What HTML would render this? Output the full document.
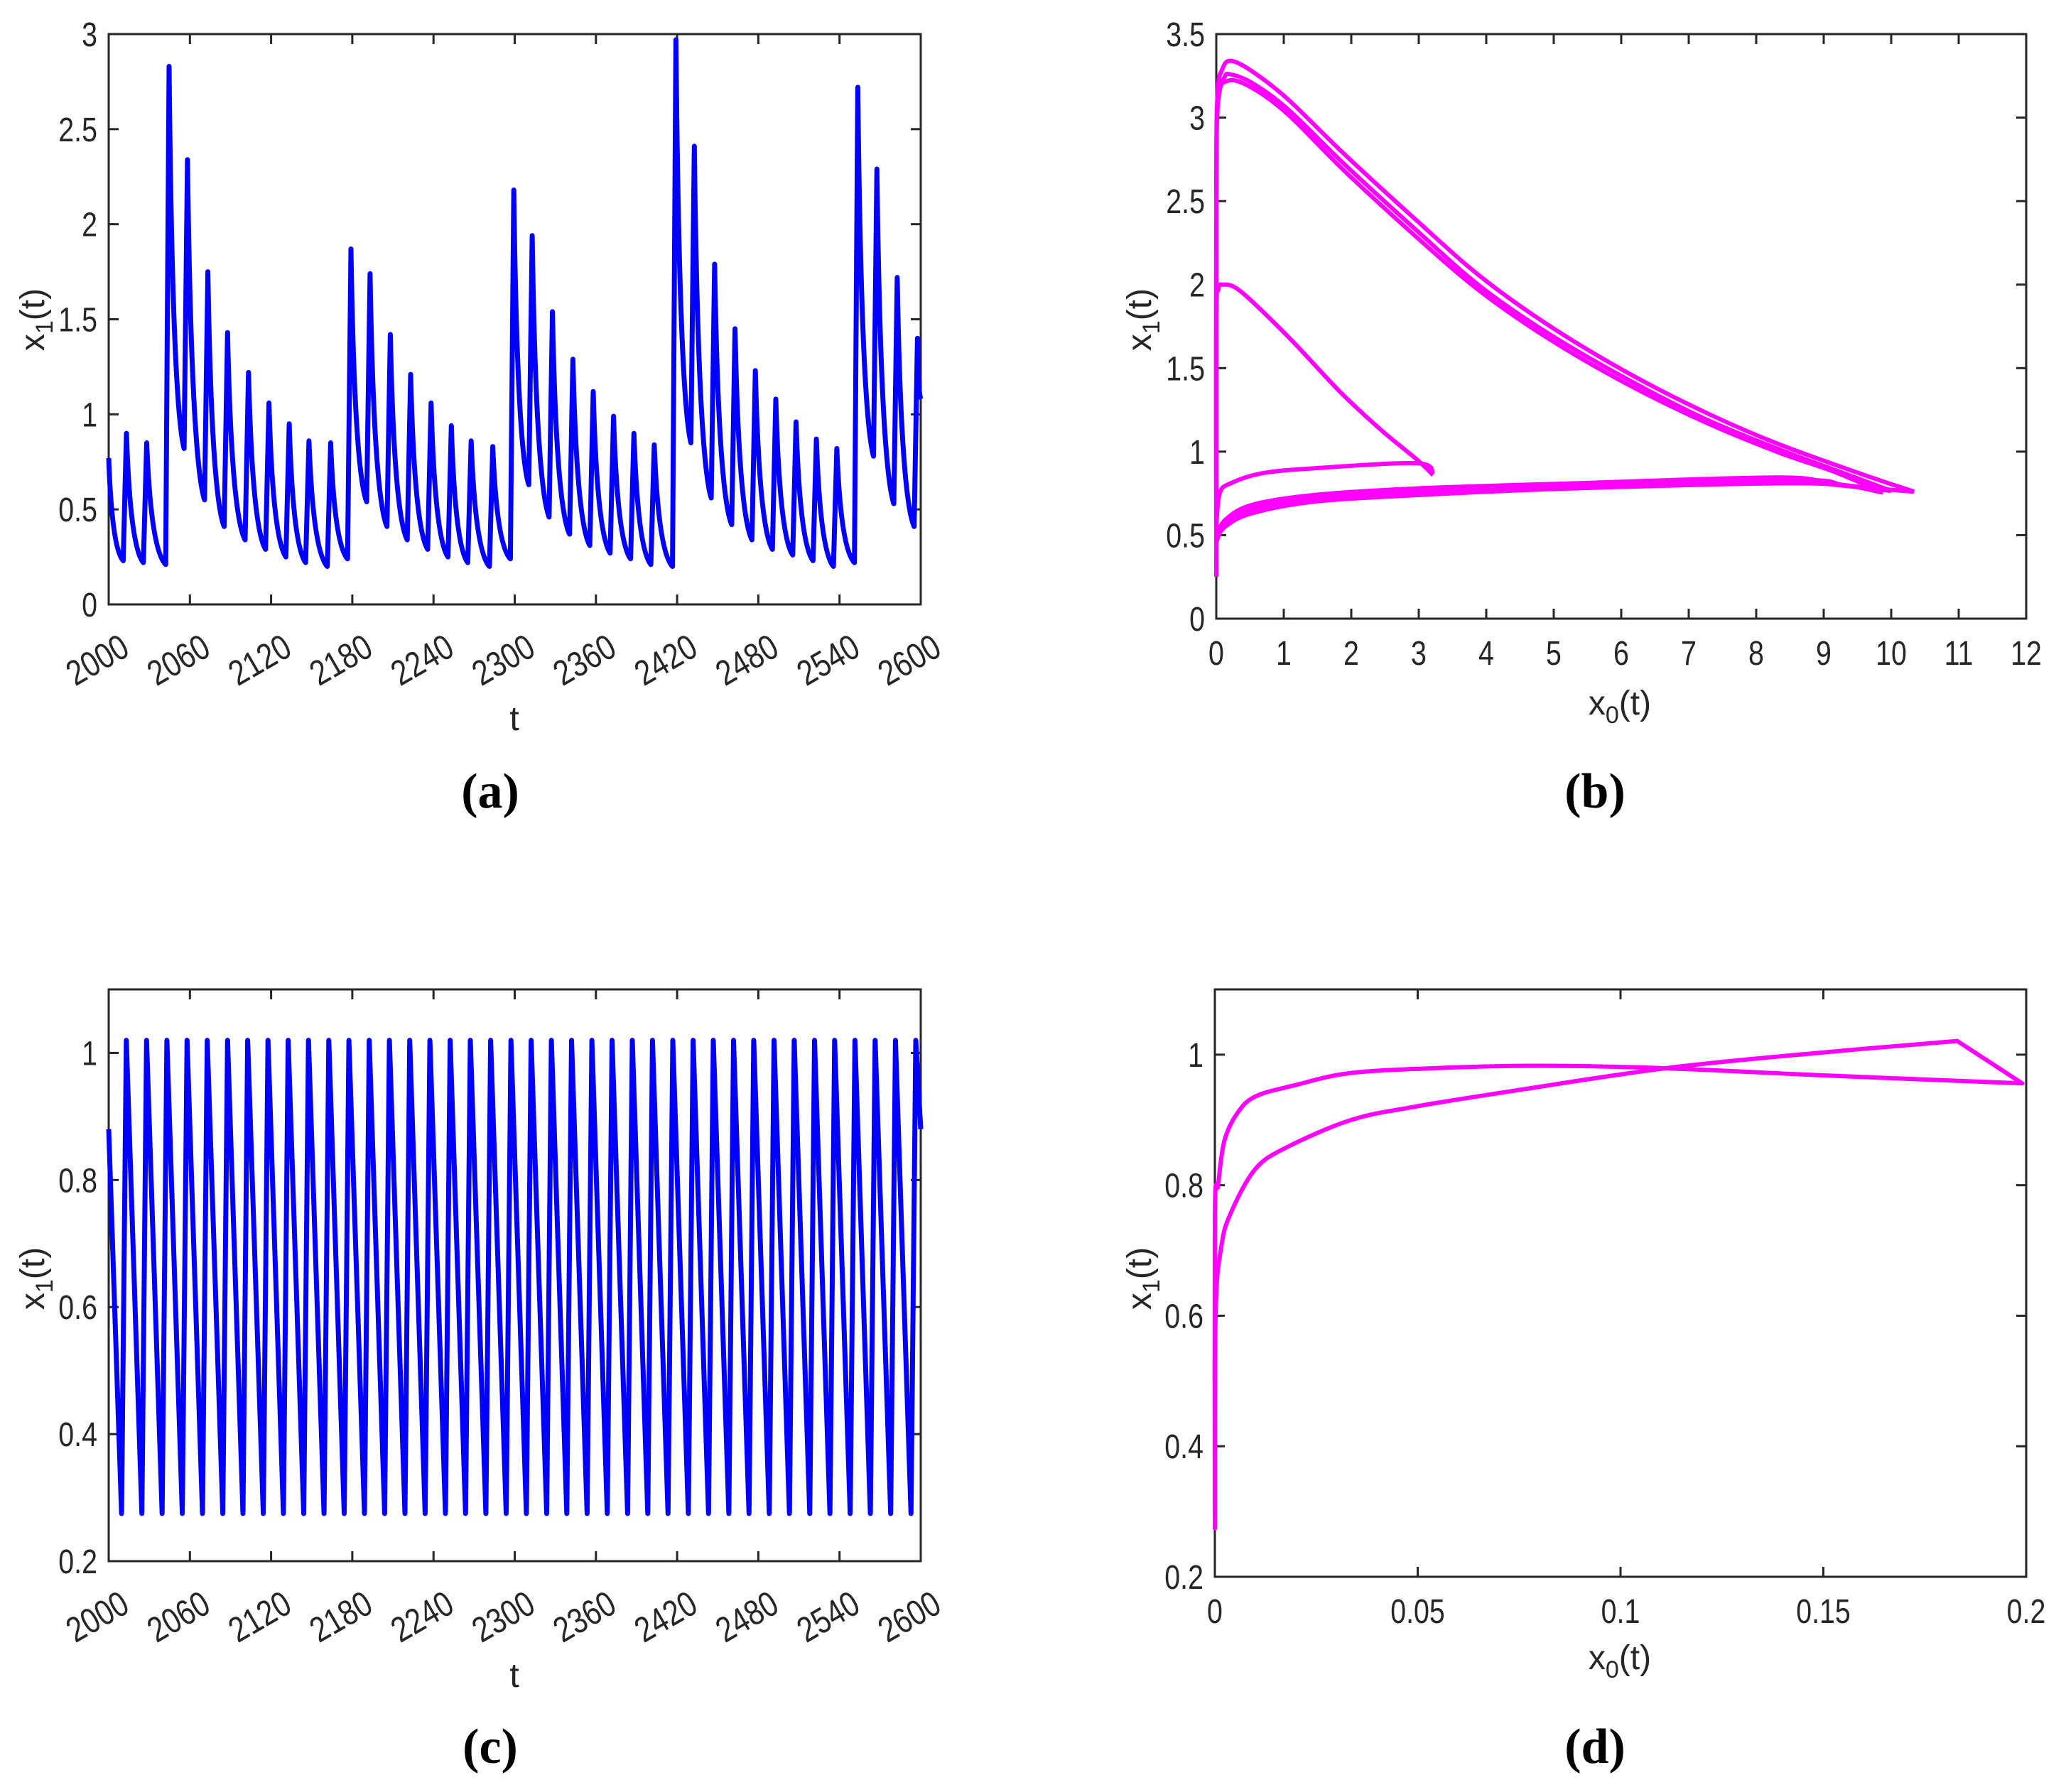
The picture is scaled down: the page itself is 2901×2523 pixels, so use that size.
<!DOCTYPE html>
<html><head><meta charset="utf-8"><style>
html,body{margin:0;padding:0;background:#fff;}
svg{display:block;}
text{font-family:"Liberation Sans",sans-serif;fill:#262626;}
.pl{font-family:"Liberation Serif",serif;font-weight:bold;fill:#000;}
</style></head><body>
<svg id="fig" width="2901" height="2523" viewBox="0 0 2901 2523" xmlns="http://www.w3.org/2000/svg"></svg>
<script>
// ---- Panel (a) data: spike peaks and troughs ----
const aStartT = 2000, aStartV = 0.77, aFirstTroughT = 2010.7, aFirstTroughV = 0.23;
const aPeakT = [2013.1,2028.1,2044.6,2058.2,2073.3,2087.8,2103.3,2118.4,2133.4,2148.0,2164.0,2179.0,2193.1,2208.1,2223.1,2238.2,2253.2,2267.8,2283.8,2299.3,2312.9,2327.9,2343.0,2358.0,2373.0,2388.1,2403.1,2419.1,2432.7,2447.7,2462.8,2477.8,2492.9,2507.9,2522.9,2538.0,2553.5,2567.6,2582.6,2597.6];
const aPeakV = [0.90,0.85,2.83,2.34,1.75,1.43,1.22,1.06,0.95,0.86,0.85,1.87,1.74,1.42,1.21,1.06,0.94,0.86,0.83,2.18,1.94,1.54,1.29,1.12,0.99,0.90,0.84,2.97,2.41,1.79,1.45,1.23,1.08,0.96,0.87,0.82,2.72,2.29,1.72,1.40];
const aTroughT = [2025.6,2042.1,2055.7,2070.8,2085.3,2100.8,2115.9,2130.9,2145.5,2161.5,2176.5,2190.6,2205.6,2220.6,2235.7,2250.7,2265.3,2281.3,2296.8,2310.4,2325.4,2340.5,2355.5,2370.5,2385.6,2400.6,2416.6,2430.2,2445.2,2460.3,2475.3,2490.4,2505.4,2520.4,2535.5,2551.0,2565.1,2580.1,2595.1,2600.0];
const aTroughV = [0.22,0.21,0.82,0.55,0.41,0.34,0.29,0.25,0.22,0.20,0.24,0.54,0.41,0.34,0.29,0.25,0.22,0.20,0.24,0.63,0.46,0.37,0.31,0.27,0.24,0.21,0.20,0.85,0.56,0.42,0.34,0.29,0.26,0.23,0.20,0.22,0.78,0.53,0.41,1.08];
const aXTicks = [2000,2060,2120,2180,2240,2300,2360,2420,2480,2540,2600];
const aYTicks = [0,0.5,1,1.5,2,2.5,3];
const aYTickLabels = ["0","0.5","1","1.5","2","2.5","3"];

// ---- Panel (b) data: phase portrait loops (x0, x1) ----
const bOuterX = [0,0,0.02,0.09,0.21,0.52,1.06,1.90,2.98,3.91,4.91,6.06,7.22,8.30,9.53,10.34];
const bOuterY = [0.50,2.6,3.15,3.29,3.34,3.28,3.11,2.78,2.38,2.05,1.76,1.48,1.24,1.05,0.87,0.76];
const bOuterRetX = [10.34,9.2,8.37,5.29,2.98,1.44,0.52,0.13,0.02,0];
const bOuterRetY = [0.76,0.80,0.845,0.81,0.78,0.74,0.68,0.59,0.50,0.45];
const bMidX = [0,0,0.03,0.12,0.20,0.52,1.06,1.90,2.98,3.91,4.91,6.06,7.22,8.30,9.30,10.0];
const bMidY = [0.48,2.6,3.12,3.24,3.26,3.21,3.05,2.72,2.32,1.99,1.71,1.44,1.20,1.02,0.87,0.765];
const bMidRetX = [10.0,9.3,8.6,5.29,2.98,1.44,0.52,0.13,0.02,0];
const bMidRetY = [0.765,0.80,0.83,0.795,0.76,0.72,0.655,0.57,0.48,0.45];
const bInnerX = [0,0,0.03,0.17,0.52,1.06,1.90,2.98,3.91,4.91,6.06,7.22,8.30,9.15,9.88];
const bInnerY = [0.25,2.5,3.10,3.22,3.18,3.02,2.68,2.28,1.96,1.68,1.41,1.18,1.00,0.88,0.755];
const bInnerRetX = [9.88,8.76,5.29,2.98,1.44,0.52,0.13,0.0];
const bInnerRetY = [0.755,0.81,0.78,0.74,0.70,0.63,0.55,0.47];
const bSmallX = [0,0,0.03,0.09,0.36,1.06,1.83,2.44,2.98,3.21];
const bSmallY = [0.55,1.8,1.97,2.00,1.96,1.69,1.36,1.13,0.95,0.86];
const bSmallRetX = [3.21,2.98,1.44,0.67,0.21,0.05,0];
const bSmallRetY = [0.86,0.93,0.90,0.87,0.81,0.75,0.55];
const bXTicks = [0,1,2,3,4,5,6,7,8,9,10,11,12];
const bYTicks = [0,0.5,1,1.5,2,2.5,3,3.5];
const bYTickLabels = ["0","0.5","1","1.5","2","2.5","3","3.5"];

// ---- Panel (c) data: periodic sawtooth ----
const cStartV = 0.88;
const cPeakT = [2013.0,2028.0,2043.0,2057.9,2072.8,2087.8,2102.7,2117.7,2132.6,2147.6,2162.6,2177.5,2192.5,2207.4,2222.4,2237.3,2252.3,2267.2,2282.2,2297.2,2312.1,2327.1,2342.0,2357.0,2371.9,2386.9,2401.8,2416.8,2431.8,2446.7,2461.7,2476.6,2491.6,2506.5,2521.5,2536.4,2551.4,2566.3,2581.3,2596.3];
const cPeakV = 1.02;
const cTroughV = 0.275;
const cXTicks = [2000,2060,2120,2180,2240,2300,2360,2420,2480,2540,2600];
const cYTicks = [0.2,0.4,0.6,0.8,1];
const cYTickLabels = ["0.2","0.4","0.6","0.8","1"];

// ---- Panel (d) data: limit cycle (outer branch, then inner branch) ----
const dUpX = [0,0,0.0008,0.0023,0.0055,0.010,0.0196,0.0336,0.057,0.081,0.112,0.151,0.199];
const dUpY = [0.274,0.75,0.80,0.867,0.91,0.936,0.953,0.972,0.980,0.983,0.979,0.968,0.956];
const dTipX = [0.199,0.183];
const dTipY = [0.956,1.021];
const dLowX = [0.183,0.151,0.112,0.073,0.049,0.0336,0.018,0.010,0.0039,0.0016,0.0002,0];
const dLowY = [1.021,1.004,0.980,0.944,0.920,0.900,0.859,0.825,0.757,0.706,0.603,0.274];
const dXTicks = [0,0.05,0.1,0.15,0.2];
const dXTickLabels = ["0","0.05","0.1","0.15","0.2"];
const dYTicks = [0.2,0.4,0.6,0.8,1];
const dYTickLabels = ["0.2","0.4","0.6","0.8","1"];

const NS = "http://www.w3.org/2000/svg";
const svg = document.getElementById('fig');
function mk(tag, attrs, parent){
  const e = document.createElementNS(NS, tag);
  for (const k in attrs) e.setAttribute(k, attrs[k]);
  (parent||svg).appendChild(e);
  return e;
}
function scale(d0,d1,r0,r1){ return v => r0 + (v-d0)/(d1-d0)*(r1-r0); }

function axes(name, L, R, T, B, xs, ys, xTicks, xLabels, yTicks, yLabels, rotX){
  const g = mk('g', {});
  
  
  const box = mk('rect', {x:L, y:T, width:R-L, height:B-T, fill:'none', stroke:'#262626', 'stroke-width':3}, g);
  
  
  xTicks.forEach((v,i)=>{
    const x = xs(v);
    mk('line',{x1:x,y1:B,x2:x,y2:B-14,stroke:'#262626','stroke-width':3},g);
    mk('line',{x1:x,y1:T,x2:x,y2:T+14,stroke:'#262626','stroke-width':3},g);
    let t;
    if (rotX){
      t = mk('text',{transform:`translate(${x+32},${B+70}) rotate(-30) scale(0.82,1)`,'text-anchor':'end','font-size':50},g);
    } else {
      t = mk('text',{transform:`translate(${x},${B+65}) scale(0.82,1)`,'text-anchor':'middle','font-size':48},g);
    }
    t.textContent = xLabels[i];
    
    
  });
  yTicks.forEach((v,i)=>{
    const y = ys(v);
    mk('line',{x1:L,y1:y,x2:L+14,y2:y,stroke:'#262626','stroke-width':3},g);
    mk('line',{x1:R,y1:y,x2:R-14,y2:y,stroke:'#262626','stroke-width':3},g);
    const t = mk('text',{transform:`translate(${L-16},${y+17}) scale(0.82,1)`,'text-anchor':'end','font-size':48},g);
    t.textContent = yLabels[i];
    
    
  });
}
function ylab(name, x, y, sub){
  const t = mk('text',{transform:`translate(${x},${y}) rotate(-90)`,'text-anchor':'middle','font-size':48});
  t.innerHTML = `x<tspan font-size="34" dy="12">${sub}</tspan><tspan dy="-12">(t)</tspan>`;
  
  
}
function xlab(name, x, y, html){
  const t = mk('text',{x:x,y:y,'text-anchor':'middle','font-size':48});
  t.innerHTML = html;
  
  
}
function plab(name, x, y, s){
  const t = mk('text',{x:x,y:y,'text-anchor':'middle','font-size':70,class:'pl'});
  t.textContent = s;
  
  
}
// Catmull-Rom smooth path through data points
function smoothPath(xs, ys, X, Y){
  const P = X.map((v,i)=>[xs(v), ys(Y[i])]);
  let d = `M${P[0][0].toFixed(1)},${P[0][1].toFixed(1)}`;
  for (let i=0;i<P.length-1;i++){
    const p0 = P[i-1]||P[i], p1=P[i], p2=P[i+1], p3=P[i+2]||P[i+1];
    const c1=[p1[0]+(p2[0]-p0[0])/6, p1[1]+(p2[1]-p0[1])/6];
    const c2=[p2[0]-(p3[0]-p1[0])/6, p2[1]-(p3[1]-p1[1])/6];
    d += ` C${c1[0].toFixed(1)},${c1[1].toFixed(1)} ${c2[0].toFixed(1)},${c2[1].toFixed(1)} ${p2[0].toFixed(1)},${p2[1].toFixed(1)}`;
  }
  return d;
}

// ===== Panel (a) =====
(function(){
  const L=153,R=1296,T=48,B=851;
  const xs=scale(2000,2600,L,R), ys=scale(0,3,B,T);
  axes('panel-a',L,R,T,B,xs,ys,aXTicks,aXTicks.map(String),aYTicks,aYTickLabels,true);
  function decay(t0,v0,t1,v1){
    const cx = t0 + 0.22*(t1-t0), cy = v1 + 0.12*(v0-v1);
    return ` Q${xs(cx).toFixed(1)},${ys(cy).toFixed(1)} ${xs(t1).toFixed(1)},${ys(v1).toFixed(1)}`;
  }
  let d = `M${xs(aStartT)},${ys(aStartV)}` + decay(aStartT,aStartV,aFirstTroughT,aFirstTroughV);
  aPeakT.forEach((tp,i)=>{
    d += ` L${xs(tp).toFixed(1)},${ys(aPeakV[i]).toFixed(1)}`;
    d += decay(tp,aPeakV[i],aTroughT[i],aTroughV[i]);
  });
  const p = mk('path',{d:d,fill:'none',stroke:'#0000ff','stroke-width':7,'stroke-linejoin':'round'});
  
  
  ylab('panel-a',62,450,'1');
  xlab('panel-a',724,1028,'t');
  plab('panel-a',690,1137,'(a)');
})();

// ===== Panel (b) =====
(function(){
  const L=1712,R=2852,T=48,B=871;
  const xs=scale(0,12,L,R), ys=scale(0,3.5,B,T);
  axes('panel-b',L,R,T,B,xs,ys,bXTicks,bXTicks.map(String),bYTicks,bYTickLabels,false);
  [['outer',bOuterX,bOuterY],['outer-return',bOuterRetX,bOuterRetY],['mid',bMidX,bMidY],['mid-return',bMidRetX,bMidRetY],
   ['inner',bInnerX,bInnerY],['inner-return',bInnerRetX,bInnerRetY],['small',bSmallX,bSmallY],['small-return',bSmallRetX,bSmallRetY]].forEach(s=>{
    const p = mk('path',{d:smoothPath(xs,ys,s[1],s[2]),fill:'none',stroke:'#ff00ff','stroke-width':6,'stroke-linejoin':'round'});
    
    
  });
  ylab('panel-b',1620,450,'1');
  xlab('panel-b',2280,1006,'x<tspan font-size="34" dy="12">0</tspan><tspan dy="-12">(t)</tspan>');
  plab('panel-b',2245,1137,'(b)');
})();

// ===== Panel (c) =====
(function(){
  const L=153,R=1296,T=1393,B=2198;
  const xs=scale(2000,2600,L,R), ys=scale(0.2,1.1,B,T);
  axes('panel-c',L,R,T,B,xs,ys,cXTicks,cXTicks.map(String),cYTicks,cYTickLabels,true);
  let d = `M${xs(2000)},${ys(cStartV)}`;
  cPeakT.forEach(tp=>{
    d += ` L${xs(tp-3.5).toFixed(1)},${ys(cTroughV).toFixed(1)} L${xs(tp).toFixed(1)},${ys(cPeakV).toFixed(1)}`;
  });
  d += ` L${xs(2600)},${ys(cStartV)}`;
  const p = mk('path',{d:d,fill:'none',stroke:'#0000ff','stroke-width':7,'stroke-linejoin':'round'});
  
  
  ylab('panel-c',62,1800,'1');
  xlab('panel-c',724,2375,'t');
  plab('panel-c',690,2482,'(c)');
})();

// ===== Panel (d) =====
(function(){
  const L=1710,R=2852,T=1393,B=2220;
  const xs=scale(0,0.2,L,R), ys=scale(0.2,1.1,B,T);
  axes('panel-d',L,R,T,B,xs,ys,dXTicks,dXTickLabels,dYTicks,dYTickLabels,false);
  [['outer-branch',dUpX,dUpY],['tip',dTipX,dTipY],['inner-branch',dLowX,dLowY]].forEach(s=>{
    const p = mk('path',{d:smoothPath(xs,ys,s[1],s[2]),fill:'none',stroke:'#ff00ff','stroke-width':6,'stroke-linejoin':'round','stroke-linecap':'round'});
    
    
  });
  ylab('panel-d',1620,1800,'1');
  xlab('panel-d',2280,2350,'x<tspan font-size="34" dy="12">0</tspan><tspan dy="-12">(t)</tspan>');
  plab('panel-d',2245,2482,'(d)');
})();
</script>
</body></html>
